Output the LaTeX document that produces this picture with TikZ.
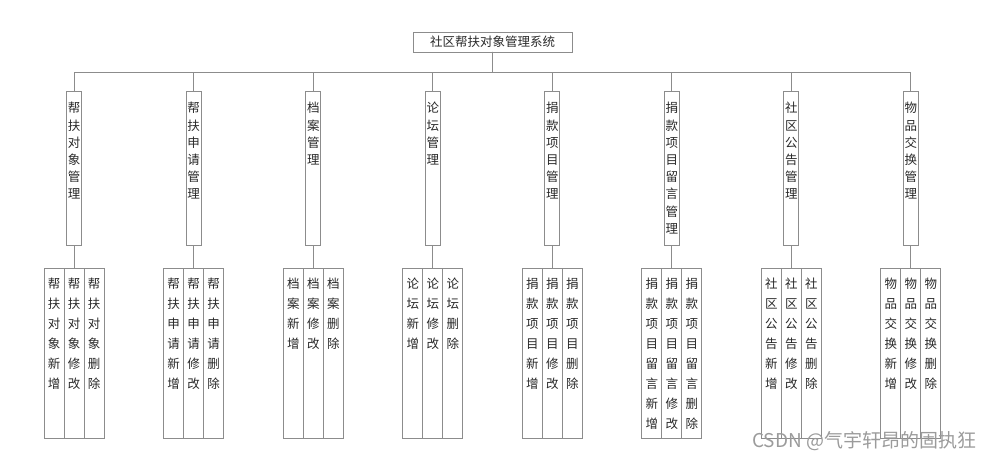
\documentclass[tikz,border=0pt]{standalone}
\usepackage{fontspec}
\setmainfont{Noto Sans CJK SC}
\usetikzlibrary{positioning}
\definecolor{linegray}{RGB}{140,140,140}
\definecolor{txtgray}{RGB}{40,40,40}
\definecolor{markgray}{RGB}{155,155,155}

\begin{document}
\begin{tikzpicture}
	[x=1bp, y=1bp, line width=0.9bp,
	 top/.style={draw=linegray, text=txtgray, anchor=north, inner sep=0pt, outer sep=0pt,
	   minimum width=159bp, minimum height=20bp, font=\fontsize{12.5bp}{15bp}\selectfont},
	 mod/.style={draw=linegray, text=txtgray, anchor=north, inner sep=0pt, outer sep=0pt, align=center,
	   text width=15bp, text height=22bp, text depth=132bp, font=\fontsize{12.5bp}{17.2bp}\selectfont},
	 leaf/.style={draw=linegray, text=txtgray, anchor=north, inner sep=0pt, outer sep=0pt, align=center,
	   text width=20bp, text height=20bp, text depth=150bp, font=\fontsize{12.5bp}{20bp}\selectfont},
	 edge from parent/.style={draw=linegray},
	 level 1/.style={level distance=49bp, sibling distance=119.5bp,
	   edge from parent path={(\tikzparentnode.south) -- ++(0,-20) -| (\tikzchildnode.north)}},
	 level 2/.style={level distance=100bp,
	   edge from parent path={(\tikzparentnode.south) -- (\tikzchildnode.north)}}]
	\useasboundingbox (0,0) rectangle (998,-460);
	\node[top] (root) at (492.5,-32) {社区帮扶对象管理系统}
		child {node[mod] (obj) {帮\\扶\\对\\象\\管\\理}
			child {node[leaf] (obj2) {帮\\扶\\对\\象\\修\\改}}
		}
		child {node[mod] (apply) {帮\\扶\\申\\请\\管\\理}
			child {node[leaf] (apply2) {帮\\扶\\申\\请\\修\\改}}
		}
		child {node[mod] (file) {档\\案\\管\\理}
			child {node[leaf] (file2) {档\\案\\修\\改}}
		}
		child {node[mod] (forum) {论\\坛\\管\\理}
			child {node[leaf] (forum2) {论\\坛\\修\\改}}
		}
		child {node[mod] (donate) {捐\\款\\项\\目\\管\\理}
			child {node[leaf] (donate2) {捐\\款\\项\\目\\修\\改}}
		}
		child {node[mod] (msg) {捐\\款\\项\\目\\留\\言\\管\\理}
			child {node[leaf] (msg2) {捐\\款\\项\\目\\留\\言\\修\\改}}
		}
		child {node[mod] (notice) {社\\区\\公\\告\\管\\理}
			child {node[leaf] (notice2) {社\\区\\公\\告\\修\\改}}
		}
		child {node[mod] (swap) {物\\品\\交\\换\\管\\理}
			child {node[leaf] (swap2) {物\\品\\交\\换\\修\\改}}
		};
	% add and delete columns beside each middle column
	\node[leaf, left=0pt of obj2] (obj1) {帮\\扶\\对\\象\\新\\增};
	\node[leaf, right=0pt of obj2] (obj3) {帮\\扶\\对\\象\\删\\除};
	\node[leaf, left=0pt of apply2] (apply1) {帮\\扶\\申\\请\\新\\增};
	\node[leaf, right=0pt of apply2] (apply3) {帮\\扶\\申\\请\\删\\除};
	\node[leaf, left=0pt of file2] (file1) {档\\案\\新\\增};
	\node[leaf, right=0pt of file2] (file3) {档\\案\\删\\除};
	\node[leaf, left=0pt of forum2] (forum1) {论\\坛\\新\\增};
	\node[leaf, right=0pt of forum2] (forum3) {论\\坛\\删\\除};
	\node[leaf, left=0pt of donate2] (donate1) {捐\\款\\项\\目\\新\\增};
	\node[leaf, right=0pt of donate2] (donate3) {捐\\款\\项\\目\\删\\除};
	\node[leaf, left=0pt of msg2] (msg1) {捐\\款\\项\\目\\留\\言\\新\\增};
	\node[leaf, right=0pt of msg2] (msg3) {捐\\款\\项\\目\\留\\言\\删\\除};
	\node[leaf, left=0pt of notice2] (notice1) {社\\区\\公\\告\\新\\增};
	\node[leaf, right=0pt of notice2] (notice3) {社\\区\\公\\告\\删\\除};
	\node[leaf, left=0pt of swap2] (swap1) {物\\品\\交\\换\\新\\增};
	\node[leaf, right=0pt of swap2] (swap3) {物\\品\\交\\换\\删\\除};
	\node[anchor=east, text=markgray, font=\fontsize{19bp}{20bp}\selectfont] (mark) at (980,-441) {CSDN @气宇轩昂的固执狂};
\end{tikzpicture}
\end{document}
